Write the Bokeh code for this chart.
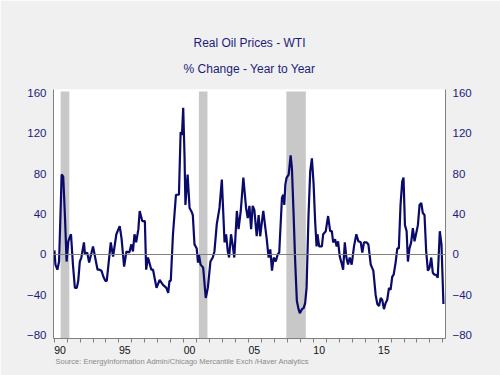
from bokeh.plotting import figure
from bokeh.models import Range1d, LinearAxis, FixedTicker, Span, Title
from bokeh.embed import file_html
from bokeh.resources import INLINE

# ---- data (decimal year, % change y/y) ----
years = [1990.02, 1990.1, 1990.25, 1990.38, 1990.58, 1990.7, 1990.83, 1990.96, 1991.09, 1991.3,
         1991.45, 1991.6, 1991.75, 1991.86, 1991.98, 1992.1, 1992.3, 1992.38, 1992.55, 1992.7,
         1993.0, 1993.15, 1993.35, 1993.5, 1993.65, 1993.8, 1993.95, 1994.06, 1994.37, 1994.55,
         1994.8, 1995.06, 1995.2, 1995.4, 1995.58, 1995.8, 1995.96, 1996.08, 1996.2, 1996.33,
         1996.5, 1996.6, 1996.8, 1997.0, 1997.1, 1997.24, 1997.5, 1997.63, 1997.9, 1998.14,
         1998.4, 1998.66, 1998.8, 1998.9, 1999.0, 1999.17, 1999.4, 1999.63, 1999.76, 1999.86,
         1999.96, 2000.06, 2000.13, 2000.3, 2000.45, 2000.58, 2000.7, 2000.83, 2001.0, 2001.1,
         2001.17, 2001.3, 2001.5, 2001.7, 2001.86, 2002.06, 2002.24, 2002.37, 2002.55, 2002.76,
         2002.94, 2003.0, 2003.15, 2003.27, 2003.4, 2003.5, 2003.65, 2003.77, 2003.9, 2004.1,
         2004.23, 2004.4, 2004.6, 2004.81, 2004.94, 2005.07, 2005.2, 2005.32, 2005.45, 2005.63,
         2005.78, 2005.9, 2006.02, 2006.14, 2006.3, 2006.4, 2006.55, 2006.68, 2006.81, 2006.94,
         2007.1, 2007.25, 2007.37, 2007.58, 2007.68, 2007.76, 2007.84, 2007.94, 2008.1, 2008.25,
         2008.35, 2008.48, 2008.6, 2008.73, 2008.86, 2008.96, 2009.12, 2009.25, 2009.37, 2009.48,
         2009.63, 2009.76, 2009.89, 2010.02, 2010.14, 2010.25, 2010.32, 2010.45, 2010.66, 2010.76,
         2010.96, 2011.14, 2011.3, 2011.43, 2011.53, 2011.68, 2011.8, 2011.91, 2012.04, 2012.17,
         2012.3, 2012.43, 2012.55, 2012.68, 2012.81, 2012.96, 2013.14, 2013.32, 2013.48, 2013.66,
         2013.78, 2013.91, 2014.1, 2014.25, 2014.43, 2014.63, 2014.81, 2014.94, 2015.07, 2015.2,
         2015.32, 2015.45, 2015.58, 2015.7, 2015.84, 2015.96, 2016.09, 2016.2, 2016.35, 2016.48,
         2016.6, 2016.73, 2016.86, 2016.96, 2017.07, 2017.2, 2017.3, 2017.42, 2017.55, 2017.68,
         2017.81, 2017.94, 2018.07, 2018.2, 2018.33, 2018.45, 2018.58, 2018.71, 2018.84, 2018.97,
         2019.1, 2019.22, 2019.35, 2019.48, 2019.6, 2019.76, 2019.89, 2020.04]
values = [4, -10, -15, -7, 79, 77, 39, -7, 13, 20,
          -10, -33, -33, -26, -7, -3, 12, 0, 2, -8,
          8, -2, -15, -15, -16, -22, -26, -26, 12, -2,
          20, 28, 16, -12, 3, 2, 10, 3, 20, 12,
          25, 43, 33, 33, -15, -3, -15, -15, -33, -25,
          -30, -33, -38, -26, -26, 20, 59, 59, 121, 118,
          145, 98, 49, 79, 46, 43, 39, 10, 6, -8,
          0, -10, -13, -43, -33, -7, -3, 3, 30, 46,
          74, 56, 12, 20, 3, -3, 20, 10, -3, 43,
          25, 43, 76, 46, 36, 48, 25, 48, 44, 18,
          39, 18, 31, 43, 26, 16, -3, 5, -16, -3,
          -7, 0, 2, 56, 59, 49, 69, 76, 79, 98,
          85, 39, -7, -46, -54, -58, -54, -53, -48, -33,
          39, 82, 95, 70, 33, 8, 20, 8, 8, 20,
          23, 38, 23, 23, 12, 15, 8, 13, -2, -8,
          -15, 12, -3, -10, -3, -10, 8, 20, 13, 12,
          2, 12, 12, 10, -10, -16, -40, -49, -51, -43,
          -45, -54, -48, -45, -33, -35, -22, -20, -8, 6,
          6, 49, 72, 76, 29, 23, -7, 6, 12, 26,
          13, 21, 29, 49, 51, 41, 39, 3, -16, -13,
          -3, -18, -20, -20, -23, 23, 10, -49]

recession_start = [1990.5, 2001.17, 2007.92]
recession_end = [1991.17, 2001.83, 2009.42]

y_ticks = [-80, -40, 0, 40, 80, 120, 160]
x_label_years = [1990, 1995, 2000, 2005, 2010, 2015]
x_labels = ["90", "95", "00", "05", "10", "15"]
minor_years = list(range(1990, 2021))

title_text = "Real Oil Prices - WTI"
subtitle_text = "% Change - Year to Year"
source_text = "Source:  EnergyInformation Admin/Chicago Mercantile Exch /Haver Analytics"

NAVY = "#1c1c7c"
FONT = "Liberation Sans"

p = figure(width=500, height=375, output_backend="svg", toolbar_location=None,
           title=None,
           x_range=Range1d(1989.95, 2020.2), y_range=Range1d(-83, 163),
           min_border_left=53, min_border_right=55, min_border_top=89, min_border_bottom=37,
           background_fill_color="white", border_fill_color="#f0f0f0")
p.outline_line_color = None
p.grid.visible = False

# recession shading
p.quad(left=recession_start, right=recession_end, bottom=-90, top=161,
       fill_color="#c8c8c8", line_color=None)

p.add_layout(Span(location=0, dimension="width", line_color="#808080", line_width=1))

p.line(years, values, line_color="#0a0a6a", line_width=2.2)

# x axis
label_pos = [y + 0.45 for y in x_label_years]
xa = p.xaxis[0]
xa.ticker = FixedTicker(ticks=label_pos, minor_ticks=minor_years)
xa.major_label_overrides = {pos: lab for pos, lab in zip(label_pos, x_labels)}
xa.major_tick_out = 0
xa.major_tick_in = 0
xa.minor_tick_out = 4
xa.minor_tick_in = 0
xa.minor_tick_line_color = "#808080"
xa.axis_line_color = "#808080"
xa.major_label_text_font = FONT
xa.major_label_text_font_size = "10.5px"
xa.major_label_text_color = "#111111"
xa.major_label_standoff = 3

# y axes
ya = p.yaxis[0]
ya.ticker = FixedTicker(ticks=y_ticks)
ya_r = LinearAxis(ticker=FixedTicker(ticks=y_ticks))
p.add_layout(ya_r, "right")
for ax in (ya, ya_r):
    ax.major_tick_out = 0
    ax.major_tick_in = 0
    ax.minor_tick_out = 0
    ax.minor_tick_in = 0
    ax.axis_line_color = "#808080"
    ax.major_label_text_font = FONT
    ax.major_label_text_font_size = "11.5px"
    ax.major_label_text_color = NAVY
    ax.major_label_standoff = 7

# titles
sub = Title(text=subtitle_text, align="center", vertical_align="top", text_font=FONT,
            text_font_size="12px", text_font_style="normal", text_color=NAVY,
            standoff=24)
main = Title(text=title_text, align="center", vertical_align="bottom", text_font=FONT,
             text_font_size="12px", text_font_style="normal", text_color=NAVY,
             standoff=0)
p.add_layout(sub, "above")
p.add_layout(main, "above")

src = Title(text=source_text, align="left", vertical_align="top", text_font=FONT,
            text_font_size="7.5px", text_font_style="normal",
            text_color="#8a8a8a", standoff=0, offset=2)
p.add_layout(src, "below")

open("out.html", "w").write(file_html(p, INLINE))
